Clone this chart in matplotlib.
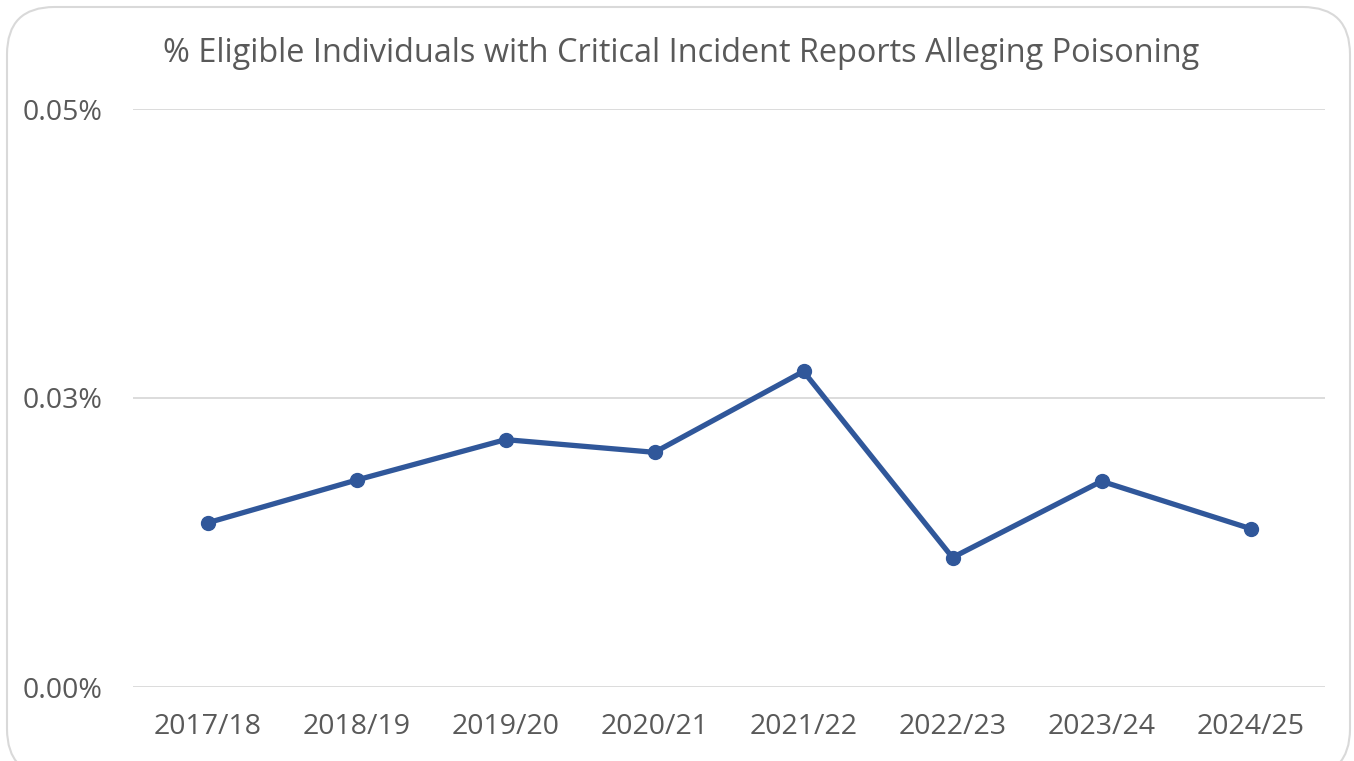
from matplotlib import pyplot as plt
from matplotlib.patches import FancyBboxPatch
from matplotlib.ticker import FuncFormatter
import numpy as np

years = ["2017/18", "2018/19", "2019/20", "2020/21", "2021/22", "2022/23", "2023/24", "2024/25"]
pct = [0.0142, 0.0179, 0.0214, 0.0203, 0.0273, 0.0112, 0.0178, 0.0137]
yticks = [0.0, 0.025, 0.05]

grey = "#595959"
blue = "#30579A"

plt.rcParams['font.family'] = ['Open Sans', 'DejaVu Sans']

fig = plt.figure(figsize=(13.54, 7.61), dpi=100)
frame = FancyBboxPatch((7/1354, -0.02), 1343/1354, 1 - 7/761 + 0.02,
                       boxstyle="round,pad=0,rounding_size=0.035",
                       transform=fig.transFigure, fc="white", ec="#D9D9D9", lw=1.5,
                       mutation_aspect=1354/761, zorder=-5)
fig.patches.append(frame)

ax = fig.add_axes([133/1354, 1 - 687/761, 1192/1354, 578/761])
ax.set_facecolor("none")
x = np.arange(len(years))
ax.plot(x, pct, color=blue, lw=3.8, marker="o", ms=10, solid_joinstyle="round")

ax.set_xlim(-0.5, len(years) - 0.5)
ax.set_ylim(0, 0.05)
ax.set_yticks(yticks)
ax.yaxis.set_major_formatter(FuncFormatter(lambda v, p: "%.2f%%" % (v + 1e-9)))
ax.set_xticks(x)
ax.set_xticklabels(years)
ax.grid(axis="y", color="#D9D9D9", lw=1.3)
ax.set_axisbelow(True)
for s in ax.spines.values():
    s.set_visible(False)
ax.tick_params(length=0, labelsize=20.5, colors=grey, pad=19)
ax.tick_params(axis="y", pad=22)

fig.text(0.503, 1 - 53/761, "% Eligible Individuals with Critical Incident Reports Alleging Poisoning",
         ha="center", va="center", fontsize=23.4, color=grey)

fig.savefig("out.png", dpi=100)
